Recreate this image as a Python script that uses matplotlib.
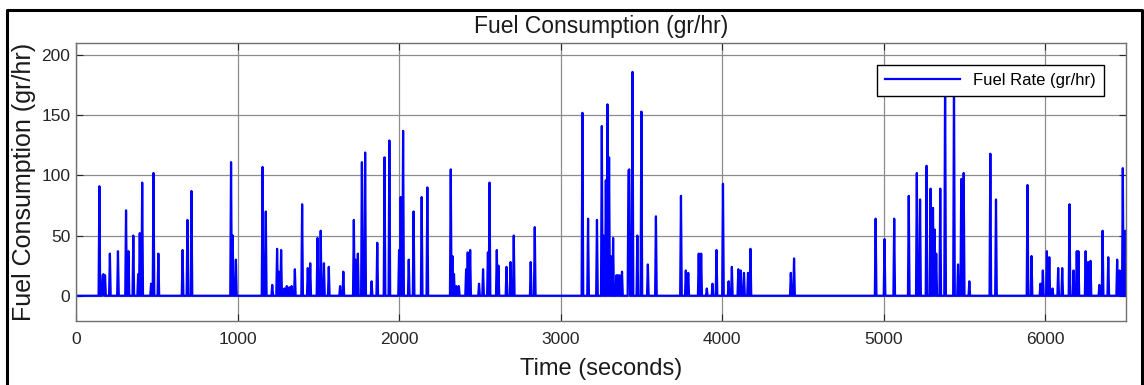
#!/usr/bin/env python3
"""
Fuel rate over a drive cycle, MATLAB-style line plot.
"""

import matplotlib
matplotlib.use('Agg')
import matplotlib.pyplot as plt
from matplotlib.lines import Line2D
import numpy as np

plt.rcParams['font.family'] = ['Liberation Sans', 'DejaVu Sans']

SAMPLE_STEP = 5  # seconds between samples
DURATION = 6500

# Non-idle fuel events (time in s, rate in gr/hr); the rest of the cycle is 0
spike_t = [
    145, 165, 170, 180, 210, 260, 310, 325, 355, 385, 395, 410, 465, 480, 510,
    660, 690, 715, 960, 970, 990,
    1155, 1175, 1215, 1245, 1255, 1270, 1290, 1305, 1320, 1335, 1355, 1400,
    1435, 1450, 1495, 1515, 1535, 1565, 1635, 1655, 1720, 1730, 1745, 1770,
    1790, 1830, 1865, 1910, 1940,
    2000, 2010, 2025, 2060, 2090, 2140, 2175, 2320, 2330, 2340, 2355, 2370,
    2415, 2425, 2440, 2495, 2520, 2550, 2560, 2605, 2615, 2665, 2690, 2710,
    2815, 2840,
    3135, 3170, 3225, 3255, 3265, 3280, 3290, 3300, 3310, 3325, 3345, 3355,
    3365, 3380, 3420, 3425, 3445, 3475, 3500, 3540, 3590, 3745, 3775, 3790,
    3855, 3870, 3905, 3940, 3965,
    4005, 4040, 4060, 4100, 4115, 4135, 4160, 4175, 4425, 4445, 4950,
    5005, 5065, 5155, 5205, 5225, 5265, 5290, 5305, 5315, 5325, 5350, 5380,
    5435, 5460, 5480, 5495, 5530, 5660, 5695, 5890, 5915, 5970, 5985,
    6010, 6025, 6045, 6080, 6105, 6150, 6175, 6195, 6205, 6250, 6265, 6280,
    6335, 6355, 6390, 6445, 6460, 6480, 6495,
]
spike_v = [
    91, 17, 18, 17, 35, 37, 71, 37, 50, 18, 52, 94, 10, 102, 35,
    38, 63, 87, 111, 50, 30,
    107, 70, 9, 39, 20, 38, 6, 8, 7, 8, 22, 76,
    23, 27, 48, 54, 27, 24, 8, 20, 63, 30, 35, 111,
    119, 12, 44, 115, 129,
    38, 82, 137, 30, 70, 82, 90, 105, 33, 18, 8, 8,
    22, 36, 38, 10, 22, 36, 94, 38, 25, 24, 28, 50,
    28, 57,
    152, 64, 63, 141, 50, 96, 159, 115, 33, 48, 17, 17,
    17, 20, 104, 105, 186, 50, 153, 26, 66, 83, 21, 19,
    35, 35, 6, 10, 38,
    93, 12, 24, 22, 21, 19, 19, 39, 19, 31, 64,
    47, 64, 83, 102, 80, 108, 89, 73, 55, 35, 89, 185,
    180, 26, 97, 102, 12, 118, 80, 92, 33, 10, 21,
    37, 32, 6, 23, 23, 76, 21, 37, 37, 37, 28, 29,
    9, 54, 32, 30, 21, 106, 54,
]

x_ticks = [0, 1000, 2000, 3000, 4000, 5000, 6000]
y_ticks = [0, 50, 100, 150, 200]


def main() -> None:
    t = np.arange(0, DURATION + SAMPLE_STEP, SAMPLE_STEP)
    fuel = np.zeros(len(t))
    fuel[np.searchsorted(t, spike_t)] = spike_v

    fig = plt.figure(figsize=(11.44, 3.85), dpi=100)
    ax = fig.add_axes([0.0664, 0.1662, 0.9179, 0.7221])

    ax.plot(t, fuel, color=(0, 0, 1), linewidth=1.6, label="Fuel Rate (gr/hr)")

    ax.set_xlim(0, DURATION)
    ax.set_ylim(-21, 210)
    ax.set_xticks(x_ticks)
    ax.set_yticks(y_ticks)
    ax.grid(True, color="#8c8c8c", linewidth=0.9)
    ax.set_axisbelow(True)
    ax.tick_params(direction="in", top=True, right=True, length=5,
                   labelsize=12.5, colors="#262626")
    ax.tick_params(axis="x", pad=8)
    ax.tick_params(axis="y", pad=4)
    for sp in ax.spines.values():
        sp.set_color("#707070")
        sp.set_linewidth(1.0)

    ax.set_title("Fuel Consumption (gr/hr)", fontsize=16.5, pad=7, color="#1a1a1a")
    ax.set_xlabel("Time (seconds)", fontsize=17, labelpad=8, color="#1a1a1a")
    ax.set_ylabel("Fuel Consumption (gr/hr)", fontsize=18, color="#1a1a1a")
    ax.yaxis.set_label_coords(-0.038, 0.5)

    leg = ax.legend(loc="upper right", fontsize=12, fancybox=False, framealpha=1,
                    edgecolor="black", handlelength=4.5, borderaxespad=1.3,
                    borderpad=0.5)
    leg.get_frame().set_linewidth(1.0)

    # figure outline (top, left, right)
    fig.add_artist(Line2D([0.006, 0.006, 0.998, 0.998], [0.0, 0.974, 0.974, 0.0],
                          transform=fig.transFigure, color="black", linewidth=2.2))

    fig.savefig("out.png", dpi=100)
    plt.close(fig)


if __name__ == "__main__":
    main()
